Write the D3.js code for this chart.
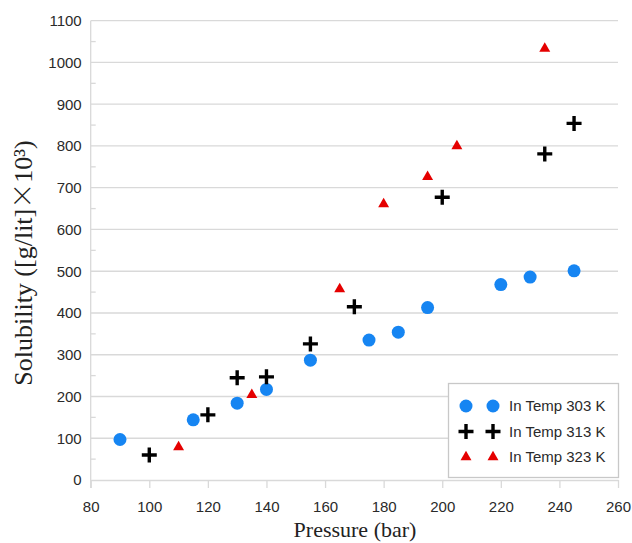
<!DOCTYPE html>
<html>
<head>
<meta charset="utf-8">
<script src="https://cdn.jsdelivr.net/npm/d3@7"></script>
<style>
  html, body { margin: 0; padding: 0; background: #fff; }
  svg { display: block; }
</style>
</head>
<body>
<svg id="chart" width="632" height="543"></svg>
<script>
// Pressure (bar) and solubility values for each temperature series
const p303 = [90, 115, 130, 140, 155, 175, 185, 195, 220, 230, 245];
const s303 = [97, 144, 184, 217, 287, 335, 354, 413, 468, 486, 501];

const p313 = [100, 120, 130, 140, 155, 170, 200, 235, 245];
const s313 = [60, 156, 245, 247, 326, 415, 677, 781, 854];

const p323 = [110, 135, 165, 180, 195, 205, 235];
const s323 = [79, 204, 457, 661, 726, 800, 1033];

const xTicks = [80, 100, 120, 140, 160, 180, 200, 220, 240, 260];
const yTicks = [0, 100, 200, 300, 400, 500, 600, 700, 800, 900, 1000, 1100];
const yMinor = [50, 150, 250, 350, 450, 550, 650, 750, 850, 950, 1050];

const legendLabels = ["In Temp 303 K", "In Temp 313 K", "In Temp 323 K"];

const svg = d3.select("#chart");
const margin = { left: 90.7, right: 618, top: 20.7, bottom: 480 };

const x = d3.scaleLinear().domain([80, 260]).range([margin.left, margin.right]);
const y = d3.scaleLinear().domain([0, 1100]).range([margin.bottom, margin.top]);

const gridColor = "#d9d9d9";
const tickFont = "'Liberation Sans', Arial, sans-serif";
const serif = "'Liberation Serif', 'Times New Roman', serif";
const tickColor = "#2a2a2a";

// horizontal gridlines
svg.append("g")
  .selectAll("line")
  .data(yTicks.filter(d => d > 0))
  .join("line")
  .attr("x1", margin.left).attr("x2", margin.right)
  .attr("y1", d => y(d)).attr("y2", d => y(d))
  .attr("stroke", gridColor).attr("stroke-width", 1.3);

// y axis with labels
const yAxis = d3.axisLeft(y).tickValues(yTicks).tickFormat(d3.format("d")).tickSize(0).tickPadding(9);
const gy = svg.append("g").attr("transform", `translate(${margin.left},0)`).call(yAxis);
gy.select(".domain").attr("stroke", gridColor).attr("stroke-width", 1.3)
  .attr("d", `M0,${margin.top}V${margin.bottom + 8}`);
gy.selectAll("text").attr("font-family", tickFont).attr("font-size", 15).attr("fill", tickColor);

// minor ticks on the y axis
svg.append("g")
  .selectAll("line")
  .data(yMinor)
  .join("line")
  .attr("x1", margin.left).attr("x2", margin.left + 5)
  .attr("y1", d => y(d)).attr("y2", d => y(d))
  .attr("stroke", gridColor).attr("stroke-width", 1.3);

// x axis with outward ticks
const xAxis = d3.axisBottom(x).tickValues(xTicks).tickFormat(d3.format("d"))
  .tickSize(8).tickSizeOuter(0).tickPadding(13);
const gx = svg.append("g").attr("transform", `translate(0,${margin.bottom})`).call(xAxis);
gx.select(".domain").attr("stroke", gridColor).attr("stroke-width", 1.3);
gx.selectAll(".tick line").attr("stroke", gridColor).attr("stroke-width", 1.3);
gx.selectAll("text").attr("font-family", tickFont).attr("font-size", 15).attr("fill", tickColor);

// axis titles
svg.append("text")
  .attr("x", 355).attr("y", 537)
  .attr("text-anchor", "middle")
  .attr("font-family", serif).attr("font-size", 22).attr("fill", "#222")
  .text("Pressure (bar)");

const yTitle = svg.append("text")
  .attr("transform", "translate(32,263) rotate(-90)")
  .attr("text-anchor", "middle")
  .attr("font-family", serif).attr("font-size", 26).attr("fill", "#222");
yTitle.append("tspan").text("Solubility ([g/lit]");
yTitle.append("tspan").attr("font-family", "'Noto Sans CJK SC', sans-serif").attr("font-weight", 300).text("×");
yTitle.append("tspan").text("10³)");

const blue = "#1685f2";
const red = "#e50000";

const triPath = d3.symbol().type(d3.symbolTriangle).size(52)();

function circles(g, pts) {
  g.selectAll("circle").data(pts).join("circle")
    .attr("cx", d => x(d[0])).attr("cy", d => y(d[1]))
    .attr("r", 6.5).attr("fill", blue);
}
function pluses(g, pts) {
  g.selectAll("path").data(pts).join("path")
    .attr("d", d => {
      const cx = x(d[0]), cy = y(d[1]);
      return `M${cx - 7.5},${cy}H${cx + 7.5}M${cx},${cy - 7.5}V${cy + 7.5}`;
    })
    .attr("stroke", "#000").attr("stroke-width", 3.4).attr("fill", "none");
}
function triangles(g, pts) {
  g.selectAll("path").data(pts).join("path")
    .attr("d", triPath)
    .attr("transform", d => `translate(${x(d[0])},${y(d[1])})`)
    .attr("fill", red);
}

circles(svg.append("g"), p303.map((p, i) => [p, s303[i]]));
pluses(svg.append("g"), p313.map((p, i) => [p, s313[i]]));
triangles(svg.append("g"), p323.map((p, i) => [p, s323[i]]));

// legend
const lg = svg.append("g");
lg.append("rect")
  .attr("x", 448.5).attr("y", 383.5).attr("width", 170).attr("height", 94)
  .attr("fill", "#fff").attr("stroke", "#c8c8c8").attr("stroke-width", 1.3);

const rowY = [406, 431.5, 457];
const mk = [466, 493];
legendLabels.forEach((label, i) => {
  const row = lg.append("g");
  mk.forEach(mx => {
    if (i === 0) {
      row.append("circle").attr("cx", mx).attr("cy", rowY[i]).attr("r", 6.5).attr("fill", blue);
    } else if (i === 1) {
      row.append("path")
        .attr("d", `M${mx - 7.5},${rowY[i]}H${mx + 7.5}M${mx},${rowY[i] - 7.5}V${rowY[i] + 7.5}`)
        .attr("stroke", "#000").attr("stroke-width", 3.4);
    } else {
      row.append("path").attr("d", triPath)
        .attr("transform", `translate(${mx},${rowY[i]})`).attr("fill", red);
    }
  });
  row.append("text")
    .attr("x", 509).attr("y", rowY[i]).attr("dy", "0.36em")
    .attr("font-family", tickFont).attr("font-size", 15).attr("fill", tickColor)
    .text(label);
});
</script>
</body>
</html>
